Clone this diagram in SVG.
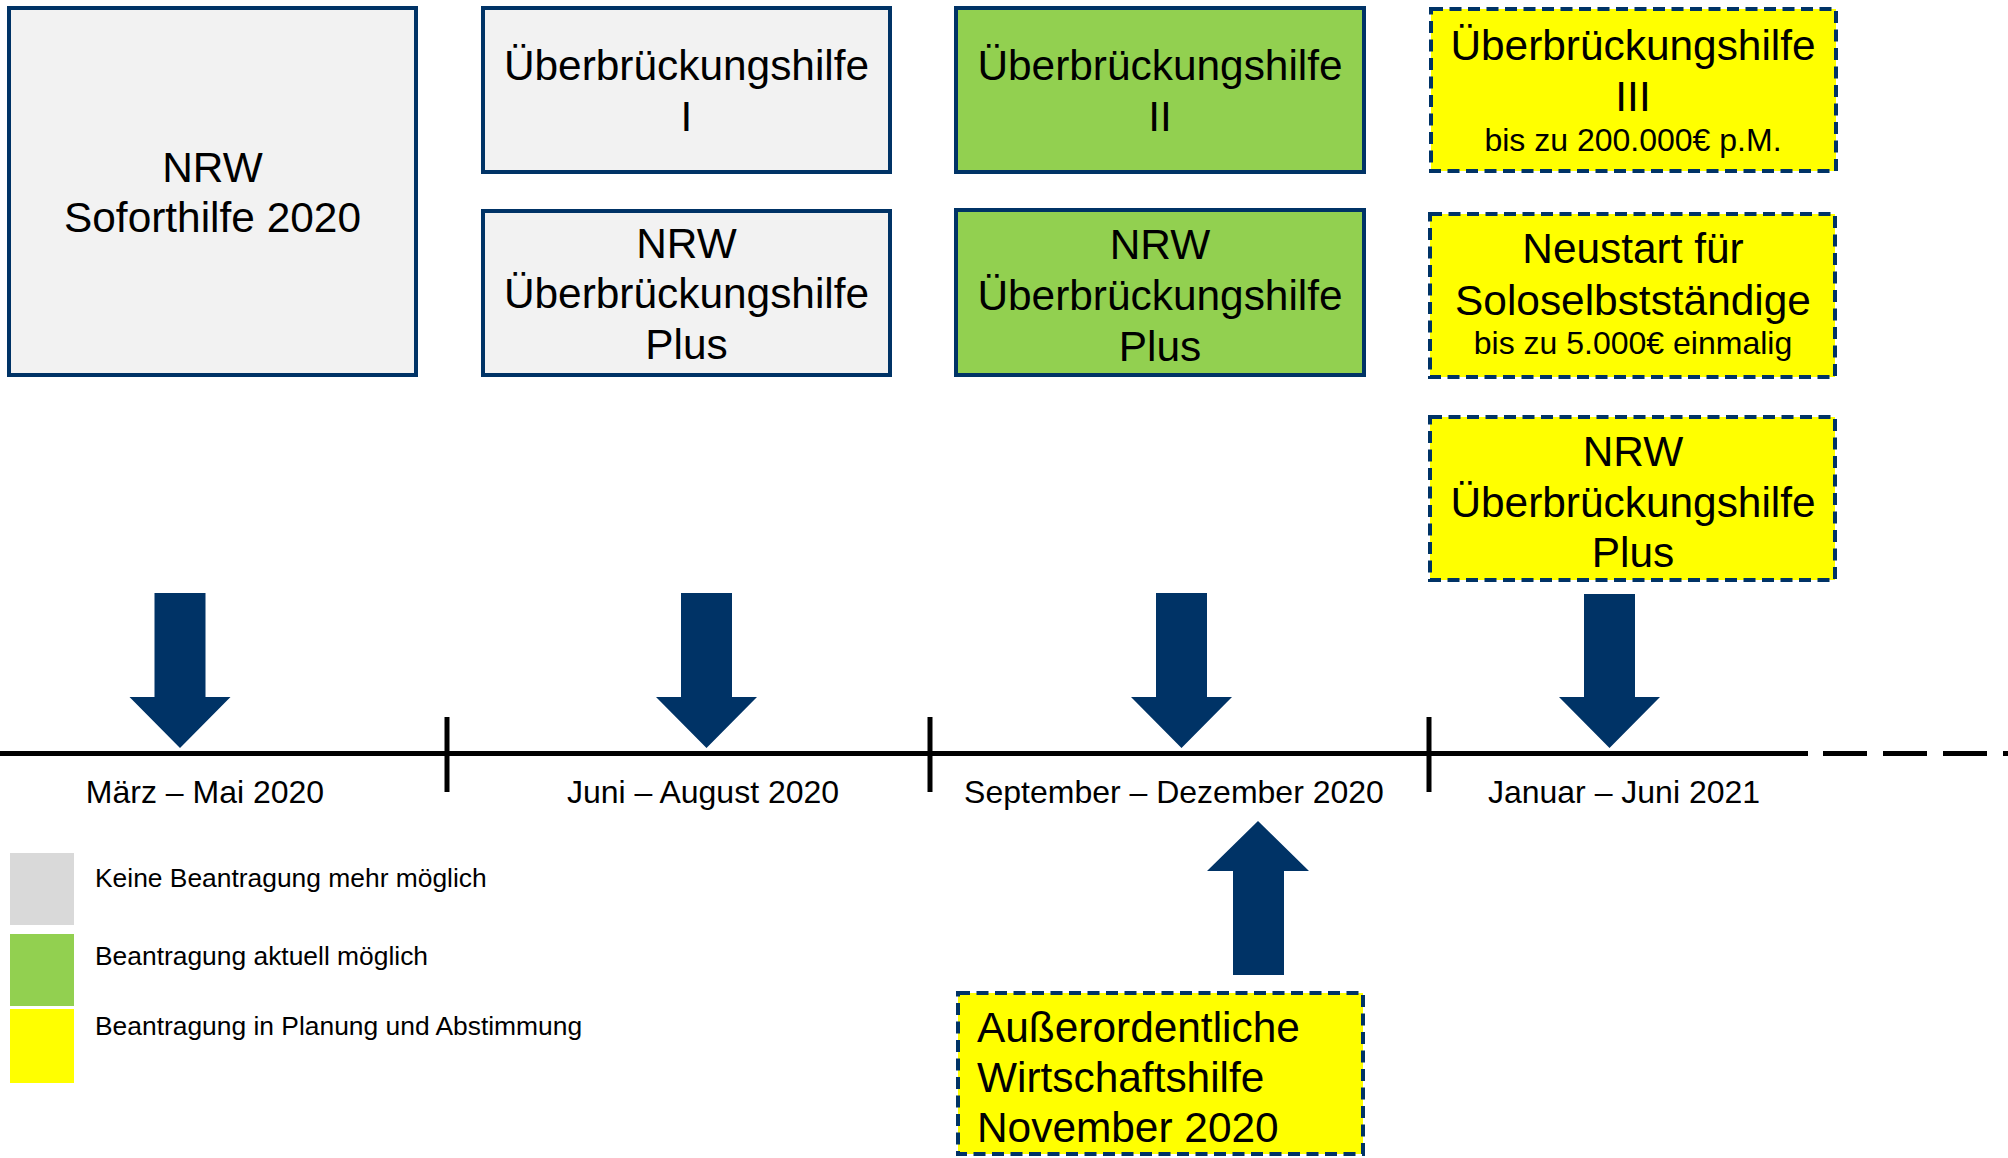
<svg xmlns="http://www.w3.org/2000/svg" width="2008" height="1158" viewBox="0 0 2008 1158">
<style>
text{font-family:"Liberation Sans",Arial,sans-serif;fill:#000}
.big{font-size:42.4px;text-anchor:middle}
.sm{font-size:32px;text-anchor:middle}
.tl{font-size:32px;text-anchor:middle}
.lg{font-size:26.4px}
.grey{fill:#f2f2f2;stroke:#003366;stroke-width:4}
.green{fill:#92d050;stroke:#003366;stroke-width:4}
.yel{fill:#ffff00;stroke:#003366;stroke-width:4;stroke-dasharray:12 6.5}
.arr{fill:#003366}
.axis{stroke:#000;stroke-width:5;fill:none}
</style>
<rect width="2008" height="1158" fill="#fff"/>
<g id="soforthilfe">
<rect class="grey" x="9" y="8" width="407" height="367"/>
<text class="big" x="212.5" y="182">NRW</text>
<text class="big" x="212.5" y="232">Soforthilfe 2020</text>
</g>
<g id="uh1">
<rect class="grey" x="483" y="8" width="407" height="164"/>
<text class="big" x="686.5" y="80">Überbrückungshilfe</text>
<text class="big" x="686.5" y="131">I</text>
</g>
<g id="nrw-uh-plus-1">
<rect class="grey" x="483" y="211" width="407" height="164"/>
<text class="big" x="686.5" y="258">NRW</text>
<text class="big" x="686.5" y="308">Überbrückungshilfe</text>
<text class="big" x="686.5" y="359">Plus</text>
</g>
<g id="uh2">
<rect class="green" x="956" y="8" width="408" height="164"/>
<text class="big" x="1160" y="80">Überbrückungshilfe</text>
<text class="big" x="1160" y="131">II</text>
</g>
<g id="nrw-uh-plus-2">
<rect class="green" x="956" y="210" width="408" height="165"/>
<text class="big" x="1160" y="259">NRW</text>
<text class="big" x="1160" y="310">Überbrückungshilfe</text>
<text class="big" x="1160" y="361">Plus</text>
</g>
<g id="uh3">
<rect class="yel" x="1431" y="9" width="405" height="162"/>
<text class="big" x="1633" y="60">Überbrückungshilfe</text>
<text class="big" x="1633" y="111">III</text>
<text class="sm" x="1633" y="151">bis zu 200.000€ p.M.</text>
</g>
<g id="neustart">
<rect class="yel" x="1430" y="214" width="405" height="163"/>
<text class="big" x="1633" y="263">Neustart für</text>
<text class="big" x="1633" y="315">Soloselbstständige</text>
<text class="sm" x="1633" y="354">bis zu 5.000€ einmalig</text>
</g>
<g id="nrw-uh-plus-3">
<rect class="yel" x="1430" y="417" width="405" height="163"/>
<text class="big" x="1633" y="466">NRW</text>
<text class="big" x="1633" y="517">Überbrückungshilfe</text>
<text class="big" x="1633" y="567">Plus</text>
</g>
<g id="novemberhilfe">
<rect class="yel" x="958" y="993" width="405" height="161"/>
<text class="big" x="977" y="1042" style="text-anchor:start">Außerordentliche</text>
<text class="big" x="977" y="1092" style="text-anchor:start">Wirtschaftshilfe</text>
<text class="big" x="977" y="1142" style="text-anchor:start">November 2020</text>
</g>
<g id="timeline">
<line class="axis" x1="0" y1="753.5" x2="1808" y2="753.5"/>
<line class="axis" x1="1823" y1="753.5" x2="2008" y2="753.5" stroke-dasharray="44 16"/>
<line class="axis" x1="447" y1="717" x2="447" y2="792"/>
<line class="axis" x1="930" y1="717" x2="930" y2="792"/>
<line class="axis" x1="1429" y1="717" x2="1429" y2="792"/>
<text class="tl" x="205" y="803">März – Mai 2020</text>
<text class="tl" x="703" y="803">Juni – August 2020</text>
<text class="tl" x="1174" y="803">September – Dezember 2020</text>
<text class="tl" x="1624" y="803">Januar – Juni 2021</text>
</g>
<g id="connectors">
<polygon class="arr" points="154.5,593 205.5,593 205.5,697 230.5,697 180,748 129.5,697 154.5,697"/>
<polygon class="arr" points="681,593 732,593 732,697 757,697 706.5,748 656,697 681,697"/>
<polygon class="arr" points="1156,593 1207,593 1207,697 1232,697 1181.5,748 1131,697 1156,697"/>
<polygon class="arr" points="1584,594 1635,594 1635,697 1660,697 1609.5,748 1559,697 1584,697"/>
<polygon class="arr" points="1233,975 1284,975 1284,871 1309,871 1258,821 1207,871 1233,871"/>
</g>
<g id="legend">
<rect x="10" y="853" width="64" height="72" fill="#d9d9d9"/>
<rect x="10" y="934" width="64" height="72" fill="#92d050"/>
<rect x="10" y="1009" width="64" height="74" fill="#ffff00"/>
<text class="lg" x="95" y="887">Keine Beantragung mehr möglich</text>
<text class="lg" x="95" y="965">Beantragung aktuell möglich</text>
<text class="lg" x="95" y="1035">Beantragung in Planung und Abstimmung</text>
</g>
</svg>
